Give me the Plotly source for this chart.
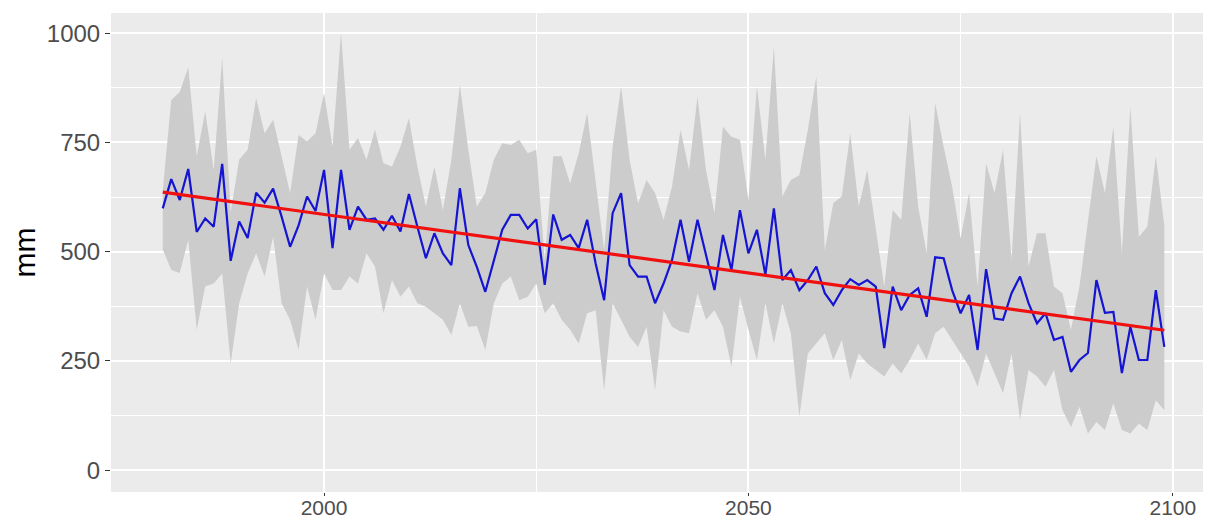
import numpy as np
import plotly.graph_objects as go

years = list(range(1981, 2100))

annual_mm = [599, 666, 618, 689, 545, 576, 557, 701, 479, 569,
             531, 635, 612, 644, 580, 511, 560, 626, 593, 687,
             508, 687, 550, 603, 573, 576, 550, 582, 546, 632,
             557, 485, 542, 496, 469, 645, 515, 465, 408, 481,
             550, 584, 584, 553, 574, 424, 585, 527, 538, 508,
             573, 473, 389, 588, 634, 469, 443, 443, 382, 427,
             481, 573, 477, 573, 496, 412, 538, 458, 595, 496,
             550, 447, 599, 435, 458, 412, 435, 466, 405, 378,
             412, 437, 424, 435, 420, 279, 420, 366, 401, 416,
             351, 487, 485, 412, 359, 401, 275, 460, 347, 344,
             405, 443, 382, 336, 359, 298, 305, 225, 252, 268,
             435, 360, 362, 222, 328, 252, 252, 412, 282]

upper_mm = [640, 847, 865, 922, 718, 821, 687, 943, 590, 710,
            733, 851, 771, 802, 718, 634, 767, 752, 771, 863,
            740, 1000, 733, 760, 710, 779, 702, 695, 740, 805,
            695, 603, 695, 595, 710, 882, 733, 603, 634, 710,
            748, 744, 756, 725, 733, 481, 718, 718, 656, 725,
            817, 664, 504, 740, 878, 710, 610, 664, 634, 573,
            649, 779, 687, 855, 687, 588, 786, 763, 756, 618,
            878, 710, 969, 626, 664, 675, 779, 901, 504, 611,
            626, 771, 603, 687, 557, 420, 595, 573, 817, 603,
            496, 840, 740, 649, 530, 634, 420, 702, 634, 733,
            481, 817, 466, 542, 542, 420, 405, 321, 420, 573,
            718, 634, 786, 496, 832, 534, 557, 718, 560]

lower_mm = [505, 458, 451, 527, 321, 420, 427, 450, 244, 382,
            450, 496, 443, 534, 382, 344, 275, 420, 344, 450,
            412, 412, 443, 427, 496, 466, 359, 435, 397, 420,
            382, 374, 359, 344, 309, 382, 328, 330, 275, 382,
            427, 443, 389, 397, 427, 359, 382, 344, 321, 290,
            359, 366, 183, 382, 344, 305, 282, 328, 183, 366,
            328, 317, 313, 405, 344, 366, 328, 237, 397, 321,
            252, 382, 290, 382, 313, 123, 267, 290, 313, 252,
            298, 206, 267, 244, 229, 214, 244, 221, 252, 290,
            252, 313, 328, 298, 267, 237, 191, 267, 221, 176,
            267, 115, 229, 214, 191, 229, 137, 99, 145, 84,
            110, 92, 153, 92, 84, 107, 92, 160, 137]

x_ticks = [2000, 2050, 2100]
y_ticks = [0, 250, 500, 750, 1000]

slope, intercept = np.polyfit(years, annual_mm, 1)
trend = [slope * y + intercept for y in years]

fig = go.Figure()
fig.add_trace(go.Scatter(x=years, y=lower_mm, mode="lines",
                         line=dict(width=0, color="#cccccc"),
                         showlegend=False, hoverinfo="skip"))
fig.add_trace(go.Scatter(x=years, y=upper_mm, mode="lines",
                         line=dict(width=0, color="#cccccc"),
                         fill="tonexty", fillcolor="#cccccc",
                         showlegend=False, hoverinfo="skip"))
fig.add_trace(go.Scatter(x=years, y=annual_mm, mode="lines",
                         line=dict(width=2.2, color="#1414d2"),
                         showlegend=False))
fig.add_trace(go.Scatter(x=years, y=trend, mode="lines",
                         line=dict(width=3.2, color="#f01010"),
                         showlegend=False))

# the page body has an 8px margin, so the figure is sized to fit the window
fig.update_layout(
    width=1203, height=512,
    margin=dict(l=103, r=0, t=5, b=28),
    paper_bgcolor="white",
    plot_bgcolor="#ebebeb",
    font=dict(family="Liberation Sans, Arial, sans-serif", color="#4d4d4d"),
    showlegend=False,
)
fig.update_xaxes(
    automargin=False,
    range=[1974.9, 2104.5],
    tickvals=x_ticks, ticktext=[str(v) for v in x_ticks],
    ticks="outside", ticklen=3, tickwidth=1.2, tickcolor="#333333",
    ticklabelstandoff=-6,
    tickfont=dict(size=21, color="#4d4d4d"),
    showgrid=True, gridcolor="white", gridwidth=1.6,
    minor=dict(tickvals=[1975, 2025, 2075], showgrid=True,
               gridcolor="white", gridwidth=0.7, ticks=""),
    zeroline=False, showline=False,
)
fig.update_yaxes(
    automargin=False,
    range=[-50, 1046],
    tickvals=y_ticks, ticktext=[str(v) for v in y_ticks],
    ticks="outside", ticklen=5, tickwidth=1.2, tickcolor="#333333",
    tickfont=dict(size=24, color="#4d4d4d"),
    showgrid=True, gridcolor="white", gridwidth=1.6,
    minor=dict(tickvals=[125, 375, 625, 875], showgrid=True,
               gridcolor="white", gridwidth=0.7, ticks=""),
    zeroline=False, showline=False,
    title=dict(text="mm", font=dict(size=30, color="black"), standoff=12),
)

fig.write_html("out.html")
